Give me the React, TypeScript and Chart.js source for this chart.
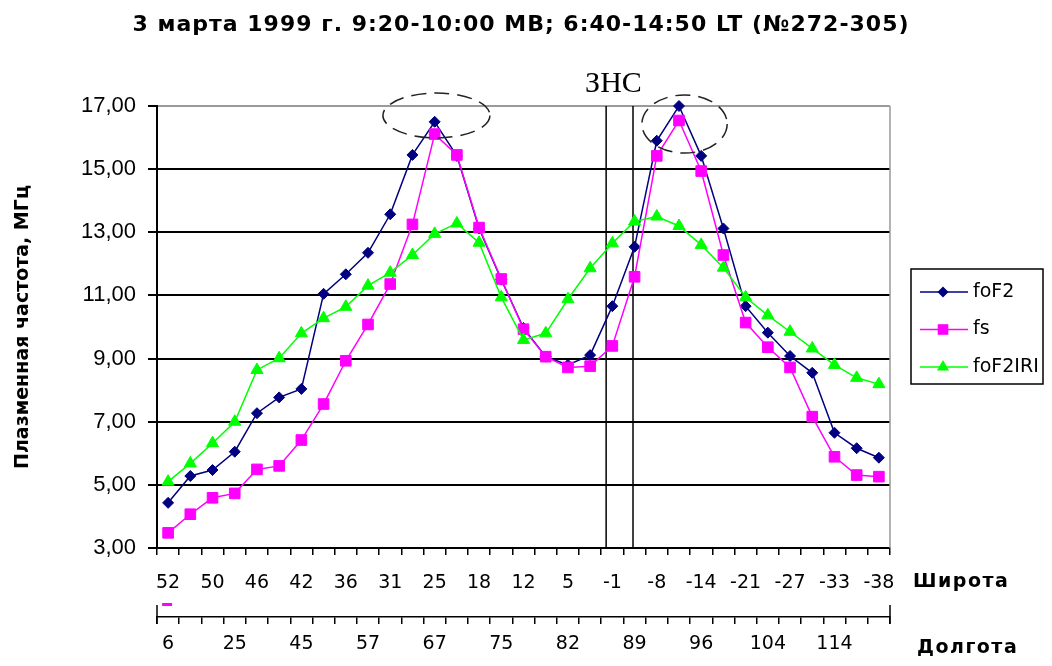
import { useEffect, useRef } from 'react';
import { Chart, registerables } from 'chart.js';

Chart.register(...registerables);

// Latitude labels (every second point) and longitude labels (every third point)
const LATITUDE = ['52', '50', '46', '42', '36', '31', '25', '18', '12', '5', '-1', '-8', '-14', '-21', '-27', '-33', '-38'];
const LONGITUDE = ['6', '25', '45', '57', '67', '75', '82', '89', '96', '104', '114'];

// Plasma frequency, MHz
const FOF2 = [4.43, 5.28, 5.47, 6.05, 7.27, 7.77, 8.04, 11.05, 11.67, 12.35, 13.57, 15.45, 16.5, 15.42, 13.12, 11.5, 9.97, 9.06, 8.8, 9.11, 10.66, 12.54, 15.9, 17.0, 15.42, 13.12, 10.66, 9.82, 9.08, 8.55, 6.65, 6.16, 5.86];
const FS = [3.48, 4.07, 4.59, 4.73, 5.49, 5.6, 6.42, 7.56, 8.93, 10.08, 11.36, 13.25, 16.11, 15.45, 13.15, 11.52, 9.93, 9.06, 8.72, 8.76, 9.4, 11.59, 15.42, 16.54, 14.94, 12.28, 10.14, 9.36, 8.72, 7.16, 5.89, 5.31, 5.26];
const FOF2_IRI = [5.1, 5.68, 6.32, 7.0, 8.64, 9.01, 9.8, 10.28, 10.64, 11.31, 11.72, 12.28, 12.95, 13.28, 12.67, 10.94, 9.59, 9.8, 10.88, 11.86, 12.65, 13.34, 13.5, 13.2, 12.6, 11.88, 10.94, 10.37, 9.85, 9.32, 8.8, 8.39, 8.19];

const Y_MIN = 3;
const Y_MAX = 17;
const Y_STEP = 2;

const TITLE = '3 марта 1999 г. 9:20-10:00 МВ; 6:40-14:50 LT (№272-305)';
const Y_TITLE = 'Плазменная частота, МГц';

// Boundaries of the ЗНС zone on the category axis
const ZNS_BOUNDS = [19.72, 20.93];
// Dashed ellipses around the two crest peaks (category / value units)
const PEAK_RINGS = [
  { x: 12.08, y: 16.7, rx: 2.41, ry: 0.71 },
  { x: 23.25, y: 16.43, rx: 1.92, ry: 0.92 },
];

const N = FOF2.length;
const latLabels = Array.from({ length: N }, (_, i) => (i % 2 === 0 ? LATITUDE[i / 2] ?? '' : ''));
const lonLabels = Array.from({ length: N }, (_, i) => (i % 3 === 0 ? LONGITUDE[i / 3] ?? '' : ''));

function fontAvailable(name: string): boolean {
  const c = document.createElement('canvas').getContext('2d');
  if (!c) return false;
  const probe = '17,00 mmmWWWiii';
  c.font = '40px monospace';
  const a = c.measureText(probe).width;
  c.font = `40px "${name}", monospace`;
  const b = c.measureText(probe).width;
  return a !== b;
}

function markerPath(ctx: CanvasRenderingContext2D, style: string, r: number, x: number, y: number) {
  ctx.beginPath();
  if (style === 'rectRot') {
    ctx.moveTo(x, y - r);
    ctx.lineTo(x + r, y);
    ctx.lineTo(x, y + r);
    ctx.lineTo(x - r, y);
  } else if (style === 'rect') {
    const s = r * Math.SQRT1_2;
    ctx.rect(x - s, y - s, 2 * s, 2 * s);
  } else {
    ctx.moveTo(x, y - r);
    ctx.lineTo(x + r * Math.sin(Math.PI / 3), y + r * 0.5);
    ctx.lineTo(x - r * Math.sin(Math.PI / 3), y + r * 0.5);
  }
  ctx.closePath();
}

const decorPlugin = {
  id: 'decor',
  beforeDatasetsDraw(chart: any) {
    const { ctx, chartArea: a, scales } = chart;
    ctx.save();
    ctx.strokeStyle = '#9a9a9a';
    ctx.lineWidth = 1.5;
    ctx.beginPath();
    ctx.moveTo(a.right, a.top);
    ctx.lineTo(a.right, a.bottom);
    ctx.stroke();
    ctx.strokeStyle = '#000';
    ctx.lineWidth = 1.5;
    ZNS_BOUNDS.forEach((v) => {
      const px = scales.x.getPixelForValue(v);
      ctx.beginPath();
      ctx.moveTo(px, a.top);
      ctx.lineTo(px, a.bottom);
      ctx.stroke();
    });
    ctx.restore();
  },
  afterDatasetsDraw(chart: any) {
    const { ctx, scales } = chart;
    ctx.save();
    ctx.strokeStyle = '#222';
    ctx.lineWidth = 1.5;
    ctx.setLineDash([15, 8]);
    PEAK_RINGS.forEach((r) => {
      const cx = scales.x.getPixelForValue(r.x);
      const cy = scales.y.getPixelForValue(r.y);
      const rx = scales.x.getPixelForValue(r.x + r.rx) - cx;
      const ry = cy - scales.y.getPixelForValue(r.y + r.ry);
      ctx.beginPath();
      ctx.ellipse(cx, cy, rx, ry, 0, 0, Math.PI * 2);
      ctx.stroke();
    });
    ctx.restore();
  },
  afterDraw(chart: any) {
    const { ctx, chartArea: a, scales } = chart;
    ctx.save();
    ctx.fillStyle = '#000';

    // title
    ctx.font = 'bold 22px "DejaVu Sans"';
    (ctx as any).letterSpacing = '1px';
    ctx.textAlign = 'center';
    ctx.textBaseline = 'alphabetic';
    ctx.fillText(TITLE, 521, 31);

    // zone label
    (ctx as any).letterSpacing = '0px';
    ctx.font = '30px "Liberation Serif"';
    ctx.fillText('ЗНС', scales.x.getPixelForValue(20.05), a.top - 14);

    // axis row names
    ctx.textAlign = 'left';
    ctx.font = 'bold 19px "DejaVu Sans"';
    (ctx as any).letterSpacing = '1.5px';
    ctx.fillText('Широта', 913, 587);
    ctx.fillText('Долгота', 917, 653);
    (ctx as any).letterSpacing = '0px';

    // longitude axis end marks
    const x2 = scales.x2;
    ctx.strokeStyle = '#000';
    ctx.lineWidth = 1.5;
    [x2.left, x2.right].forEach((px: number) => {
      ctx.beginPath();
      ctx.moveTo(px, x2.top - 12);
      ctx.lineTo(px, x2.top + 7);
      ctx.stroke();
    });
    ctx.fillStyle = '#ff00ff';
    ctx.fillRect(scales.x.getPixelForValue(0) - 6, x2.top - 14, 10, 3);

    // legend
    const lx = 911, ly = 269, lw = 132, lh = 115;
    ctx.fillStyle = '#fff';
    ctx.fillRect(lx, ly, lw, lh);
    ctx.strokeStyle = '#000';
    ctx.lineWidth = 1.5;
    ctx.strokeRect(lx, ly, lw, lh);
    ctx.font = '19px "DejaVu Sans"';
    ctx.textBaseline = 'middle';
    chart.data.datasets.forEach((ds: any, i: number) => {
      const y = ly + 23 + i * 37.5;
      ctx.strokeStyle = ds.borderColor;
      ctx.lineWidth = 1.5;
      ctx.beginPath();
      ctx.moveTo(lx + 9, y);
      ctx.lineTo(lx + 57, y);
      ctx.stroke();
      ctx.fillStyle = ds.borderColor;
      markerPath(ctx, ds.pointStyle, ds.pointRadius, lx + 32, y);
      ctx.fill();
      ctx.fillStyle = '#000';
      ctx.fillText(ds.label, lx + 62, y);
    });
    ctx.restore();
  },
};

export default function App() {
  const ref = useRef<HTMLCanvasElement>(null);

  useEffect(() => {
    const canvas = ref.current;
    if (!canvas) return;
    const narrow = fontAvailable('Liberation Sans Narrow');
    const yTickFont = narrow
      ? { family: '"Liberation Sans Narrow"', size: 26 }
      : { family: '"Liberation Sans"', size: 22 };

    const series = [
      { label: 'foF2', data: FOF2, color: '#000080', style: 'rectRot', radius: 5.5, order: 2 },
      { label: 'fs', data: FS, color: '#ff00ff', style: 'rect', radius: 7.5, order: 1 },
      { label: 'foF2IRI', data: FOF2_IRI, color: '#00ff00', style: 'triangle', radius: 7, order: 0 },
    ];

    const chart = new Chart(canvas, {
      type: 'line',
      data: {
        labels: latLabels,
        datasets: series.map((s) => ({
          label: s.label,
          data: s.data,
          xAxisID: 'x',
          yAxisID: 'y',
          borderColor: s.color,
          backgroundColor: s.color,
          borderWidth: 1.5,
          pointStyle: s.style,
          pointRadius: s.radius,
          pointBackgroundColor: s.color,
          pointBorderColor: s.color,
          pointBorderWidth: 1,
          tension: 0,
          fill: false,
          order: s.order,
          clip: false,
        })) as any,
      },
      plugins: [decorPlugin],
      options: {
        responsive: false,
        animation: false,
        devicePixelRatio: 1,
        layout: { padding: { left: 0, top: 106, right: 162, bottom: 0 } },
        font: { family: '"DejaVu Sans"' } as any,
        plugins: {
          legend: { display: false },
          title: { display: false },
          tooltip: { enabled: false },
        },
        scales: {
          x: {
            type: 'category',
            labels: latLabels,
            position: 'bottom',
            weight: 0,
            offset: true,
            grid: { drawOnChartArea: false, drawTicks: true, tickLength: 7, color: '#000', lineWidth: 1.5, offset: true },
            border: { display: true, color: '#000', width: 2 },
            ticks: {
              autoSkip: false,
              maxRotation: 0,
              minRotation: 0,
              padding: 17,
              color: '#000',
              font: { family: '"DejaVu Sans"', size: 19 },
            },
            afterFit: (s: any) => { s.height = 69; },
          },
          x2: {
            type: 'category',
            labels: lonLabels,
            position: 'bottom',
            weight: 1,
            offset: true,
            grid: { drawOnChartArea: false, drawTicks: true, tickLength: 7, color: '#000', lineWidth: 1.5, offset: true },
            border: { display: true, color: '#000', width: 1.5 },
            ticks: {
              autoSkip: false,
              maxRotation: 0,
              minRotation: 0,
              padding: 9,
              color: '#000',
              font: { family: '"DejaVu Sans"', size: 19 },
            },
            afterFit: (s: any) => { s.height = 49; },
          },
          y: {
            type: 'linear',
            position: 'left',
            min: Y_MIN,
            max: Y_MAX,
            grid: {
              color: (c: any) => (c.tick && c.tick.value === Y_MAX ? '#9a9a9a' : '#000'),
              tickColor: '#000',
              lineWidth: 2,
              tickLength: 9,
            },
            border: { display: true, color: '#000', width: 2 },
            ticks: {
              stepSize: Y_STEP,
              padding: 12,
              color: '#000',
              font: yTickFont,
              callback: (v: any) => Number(v).toFixed(2).replace('.', ','),
            },
            title: {
              display: true,
              text: Y_TITLE,
              color: '#000',
              font: { family: '"DejaVu Sans"', size: 19, weight: 'bold' },
              padding: { top: 12, bottom: 0 },
            },
            afterFit: (s: any) => { s.width = 157; },
          },
        },
      } as any,
    });
    return () => chart.destroy();
  }, []);

  return (
    <div style={{ position: 'fixed', left: 0, top: 0, width: 1052, height: 666, background: '#fff' }}>
      <canvas ref={ref} width={1052} height={666} style={{ width: 1052, height: 666, display: 'block' }} />
    </div>
  );
}
